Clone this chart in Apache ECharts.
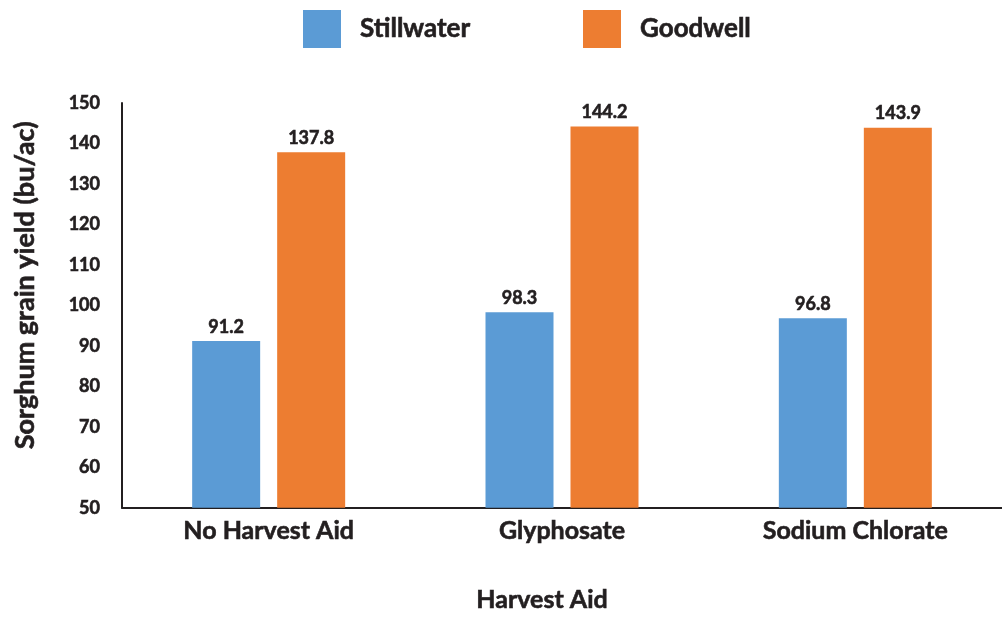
<!DOCTYPE html>
<html>
<head>
<meta charset="utf-8">
<title>Sorghum grain yield by harvest aid</title>
<script src="https://cdn.jsdelivr.net/npm/echarts@6/dist/echarts.min.js"></script>
<style>
  html, body { margin: 0; padding: 0; background: #ffffff; }
  #chart { width: 1002px; height: 618px; }
</style>
</head>
<body>
<div id="chart"></div>
<script>
// Harvest aid treatments on the x axis
const categories = ['No Harvest Aid', 'Glyphosate', 'Sodium Chlorate'];
// Grain yield (bu/ac) at each location
const stillwater = [91.2, 98.3, 96.8];
const goodwell = [137.8, 144.2, 143.9];
const seriesNames = ['Stillwater', 'Goodwell'];

const FONT = 'Lato, "Open Sans", sans-serif';
const INK = '#231f20';
const BLUE = '#5b9bd5';
const ORANGE = '#ed7d31';

// heavy bold text: bold face plus a thin outline in the same ink
function heavy(size, extra) {
  return Object.assign({
    fontFamily: FONT, fontWeight: 'bold', fontSize: size, color: INK,
    textBorderColor: INK, textBorderWidth: 0.6
  }, extra || {});
}

const chart = echarts.init(document.getElementById('chart'), null, { renderer: 'canvas' });

function legendFor(name, left) {
  return {
    data: [name],
    left: left,
    top: 10,
    padding: 0,
    itemWidth: 38,
    itemHeight: 38,
    icon: 'rect',
    selectedMode: false,
    textStyle: heavy(26, { padding: [0, 0, 0, 14] })
  };
}

const barLabel = Object.assign({
  show: true,
  position: 'top',
  distance: 5,
  formatter: p => p.value.toFixed(1)
}, heavy(18));

chart.setOption({
  animation: false,
  backgroundColor: '#ffffff',
  legend: [legendFor(seriesNames[0], 303), legendFor(seriesNames[1], 583)],
  grid: { left: 122, width: 893, top: 103, height: 411, containLabel: false },
  xAxis: {
    type: 'category',
    data: categories,
    name: 'Harvest Aid',
    nameLocation: 'middle',
    nameGap: 80,
    nameTextStyle: heavy(25, { padding: [0, 40, 0, 0] }),
    axisLine: { lineStyle: { color: INK, width: 2 } },
    axisTick: { show: false },
    axisLabel: Object.assign({ margin: 11, interval: 0 }, heavy(25))
  },
  yAxis: {
    type: 'value',
    min: 50,
    max: 150,
    interval: 10,
    name: 'Sorghum grain yield (bu/ac)',
    nameLocation: 'middle',
    nameGap: 83,
    nameTextStyle: heavy(27, { padding: [0, 0, 0, 40] }),
    axisLine: { show: true, lineStyle: { color: INK, width: 2 } },
    axisTick: { show: false },
    splitLine: { show: false },
    axisLabel: Object.assign({ margin: 22 }, heavy(18))
  },
  series: [
    {
      name: seriesNames[0],
      type: 'bar',
      data: stillwater,
      barWidth: 68,
      barGap: '25%',
      itemStyle: { color: BLUE },
      label: barLabel
    },
    {
      name: seriesNames[1],
      type: 'bar',
      data: goodwell,
      barWidth: 68,
      barGap: '25%',
      itemStyle: { color: ORANGE },
      label: barLabel
    }
  ]
});
</script>
</body>
</html>
